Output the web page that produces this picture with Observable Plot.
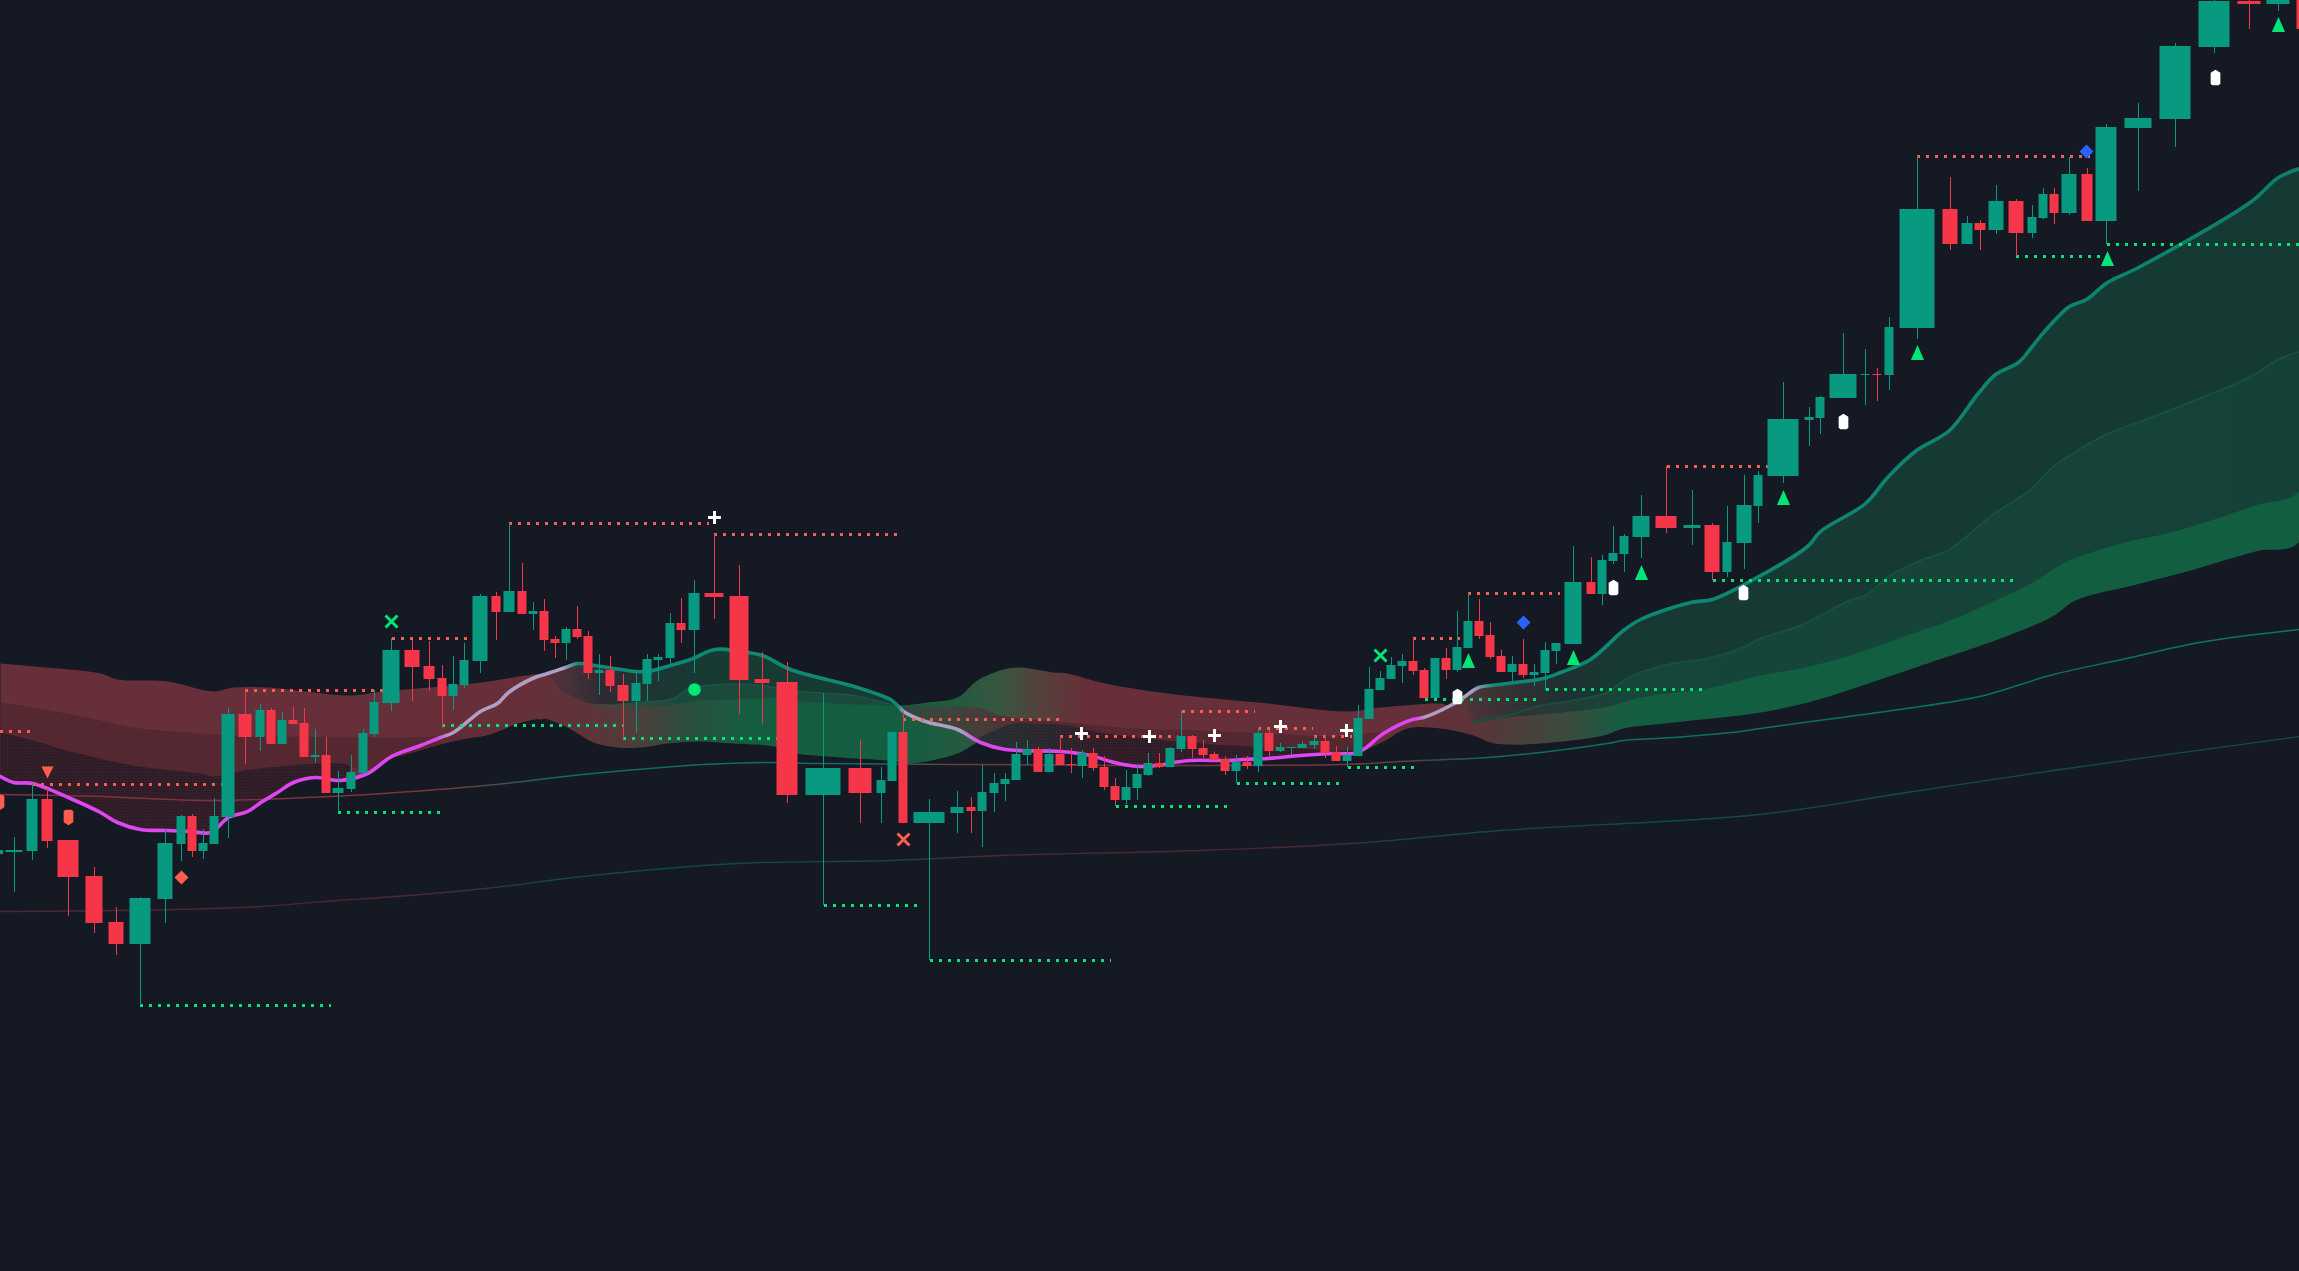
<!DOCTYPE html>
<html>
<head>
<meta charset="utf-8">
<style>
html,body{margin:0;padding:0;background:#141924;overflow:hidden;width:2299px;height:1271px}
</style>
<script src="https://cdn.jsdelivr.net/npm/d3@7"></script>
<script src="https://cdn.jsdelivr.net/npm/@observablehq/plot@0.6"></script>
</head>
<body>
<div id="chart"></div>
<script>
// ---------- candles ----------
const candleX=[0,14,32,47,68,94,116,140,165,181,192,203,214,228,245,260,271,282,293,304,315,326,338,351,363,374,391,412,429,442,453,464,480,496,509,522,533,544,555,566,577,588,599,610,623,636,647,658,670,681,694,714,739,762,787,823,860,881,892,903,929,957,971,982,994,1005,1016,1027,1038,1049,1060,1071,1082,1093,1104,1115,1126,1137,1148,1159,1170,1181,1192,1203,1214,1225,1236,1247,1258,1269,1280,1291,1302,1314,1325,1336,1347,1358,1369,1380,1391,1402,1413,1424,1435,1446,1457,1468,1479,1490,1501,1512,1523,1534,1545,1556,1573,1591,1602,1613,1624,1641,1666,1692,1712,1727,1744,1758,1783,1809,1820,1843,1865,1877,1889,1917,1950,1967,1980,1996,2016,2032,2043,2054,2069,2087,2106,2138,2175,2214,2249,2278,2302];
const candleW=[6,17,11,11,21,17,15,21,15,9,9,9,9,13,13,9,9,9,9,9,9,9,11,9,9,9,17,15,11,9,9,9,15,9,11,9,9,9,9,9,9,9,9,9,11,9,9,9,9,9,11,19,19,15,21,35,23,9,9,9,31,13,9,9,9,9,9,9,9,9,9,9,9,9,9,9,9,9,9,9,9,9,9,9,9,9,9,9,9,9,9,9,9,9,9,9,9,9,9,9,9,9,9,9,9,9,9,9,9,9,9,9,9,9,9,9,17,9,9,9,9,17,21,17,15,9,15,9,31,9,9,27,9,9,9,35,15,11,11,15,15,9,9,9,15,11,21,27,31,31,23,23,11];
const candleTop=[850,850,799,799,840,876,922,898,843,816,816,843,816,714,714,710,710,720,720,723,755,755,788,772,733,702,650,650,666,678,684,660,596,596,591,591,611,611,639,629,629,636,670,670,685,683,659,657,623,623,593,593,596,679,682,768,768,780,732,732,812,807,807,792,783,779,754,749,749,754,754,764,753,753,767,786,787,774,763,763,748,736,736,748,754,759,762,762,733,733,747,747,744,741,741,752,755,718,689,678,665,661,661,670,658,658,647,621,621,635,656,664,664,672,650,643,582,582,560,553,536,516,516,525,525,542,505,475,419,417,397,374,374,374,327,209,209,223,223,201,201,217,194,194,174,174,127,118,46,1,1,0,0];
const candleBottom=[854,852,851,841,877,923,944,944,899,844,851,851,844,817,737,737,744,744,724,757,757,793,793,789,773,734,703,667,679,696,696,685,661,612,612,614,614,640,643,643,637,673,673,686,701,701,684,660,658,630,630,597,680,683,795,795,793,793,781,823,823,813,811,811,793,784,780,755,772,772,765,765,766,768,787,800,800,788,775,767,767,749,749,755,760,771,771,766,766,751,751,748,748,745,753,761,761,756,719,690,679,666,671,698,698,670,670,648,636,657,672,672,675,675,673,651,644,594,594,561,554,537,528,528,572,572,543,506,476,420,418,398,375,375,375,328,244,244,230,230,233,233,218,213,213,221,221,128,119,47,4,4,29];
const candleHigh=[850,837,783,788,840,867,907,897,829,815,814,829,798,708,690,704,708,712,707,708,729,737,771,755,729,690,638,640,641,665,656,643,594,592,523,563,602,599,636,627,606,631,654,656,674,672,654,654,613,598,580,534,565,652,662,693,740,767,732,711,799,791,797,765,773,773,742,740,747,748,735,748,750,748,756,778,770,765,753,753,747,711,735,740,752,756,755,756,727,730,743,747,741,736,735,746,747,705,667,671,657,654,638,668,658,648,611,593,599,622,650,656,639,664,642,643,546,557,555,526,534,495,466,490,523,506,475,471,382,407,396,333,349,368,317,156,177,216,220,185,199,205,188,188,157,168,124,103,43,0,0,0,0];
const candleLow=[854,892,860,848,916,933,955,1005,923,861,857,859,844,838,764,751,744,744,724,757,763,793,812,792,773,737,711,701,691,726,710,688,673,640,612,614,630,651,658,660,639,679,695,692,739,733,701,681,664,643,673,619,714,724,803,905,823,823,781,823,960,833,833,847,812,801,780,765,772,772,765,773,778,771,790,806,804,800,776,768,767,752,758,758,760,775,783,769,772,756,752,755,748,749,758,761,767,756,719,690,679,683,675,698,698,679,672,648,639,659,672,681,678,686,690,664,644,594,605,564,572,558,533,545,580,577,569,523,483,446,434,398,405,401,390,339,250,244,250,234,256,238,219,224,215,221,244,191,147,53,29,11,29];
const candleUp=[1,1,1,0,0,0,0,1,1,1,0,1,1,1,0,1,0,1,0,0,1,0,1,1,1,1,1,0,0,0,1,1,1,0,1,0,1,0,0,1,0,0,1,0,0,1,1,1,1,0,1,0,0,0,0,1,0,1,1,0,1,1,0,1,1,1,1,1,0,1,0,0,1,0,0,0,1,1,1,0,1,1,0,0,0,0,1,0,1,0,1,1,1,1,0,0,1,1,1,1,1,1,0,0,1,0,1,1,0,0,0,1,0,1,1,1,1,0,1,1,1,1,0,1,0,1,1,1,1,1,1,1,1,0,1,1,0,1,0,1,0,1,1,0,1,0,1,1,1,1,0,1,0];

// ---------- level dots: [x1, x2, y] ----------
const levelsRed=[[0,31,731],[32,222,784],[245,383,690],[392,473,638],[509,709,523],[714,898,534],[903,1059,719],[1060,1178,736],[1182,1255,711],[1258,1313,728],[1314,1352,736],[1413,1460,638],[1468,1560,593],[1667,1768,466],[1917,2090,156]];
const levelsGreen=[[140,331,1005],[338,440,812],[442,623,725],[623,777,738],[824,923,905],[930,1111,960],[1116,1233,806],[1237,1345,783],[1348,1420,767],[1425,1542,699],[1546,1708,689],[1713,2013,580],[2016,2100,256],[2107,2299,244]];

// ---------- long moving averages ----------
const longLineA=[[0,794],[100,796],[210,800],[350,795],[368,794],[485,785],[582,774],[703,764],[760,762],[820,763],[960,764],[1120,765],[1340,764],[1400,761],[1500,756],[1607,743],[1623,740],[1673,737],[1740,731],[1760,728],[1833,718],[1906,708],[1979,696],[2053,674],[2126,658],[2199,642],[2299,629]];
const longLineB=[[0,911],[175,909],[260,906],[350,899],[368,898],[485,888],[582,876],[703,865],[760,862],[890,860],[1000,855],[1200,850],[1350,843],[1500,830],[1759,814],[1906,792],[2053,770],[2299,736]];

// ---------- ribbon lines ----------
const lineD=[[0,776],[13,782],[32,783],[70,798],[100,812],[117,822],[140,829],[167,830],[190,831],[210,832],[228,817],[247,811],[262,801],[277,792],[293,782],[315,777],[340,780],[367,773],[391,756],[420,745],[440,737],[453,732],[480,711],[497,703],[508,692],[532,678],[547,673],[565,667],[577,663],[594,665],[613,668],[635,671],[647,671],[670,665],[690,659],[714,649],[740,651],[762,655],[790,669],[857,687],[890,699],[897,705],[903,711],[925,721],[957,729],[980,742],[1005,749],[1060,751],[1090,755],[1110,761],[1123,764],[1140,766],[1157,765],[1173,762],[1190,760],[1227,760],[1243,759],[1267,758],[1300,755],[1333,753],[1353,753],[1363,749],[1383,733],[1412,719],[1423,717],[1450,705],[1463,697],[1478,687],[1490,685],[1523,681],[1543,678],[1560,672],[1590,659],[1623,630],[1640,619],[1690,602],[1712,599],[1742,585],[1807,546],[1820,531],[1865,503],[1888,476],[1916,450],[1949,430],[1977,394],[1995,374],[2018,362],[2031,347],[2044,331],[2069,306],[2086,299],[2107,282],[2138,267],[2251,201],[2278,177],[2300,168]];
const hullTopLeft=[[0,663],[33,666],[100,673],[117,679],[167,681],[213,691],[233,687],[267,687],[350,695],[383,691],[473,683],[533,674]];
const hullTopMid=[[903,705],[927,702],[957,697],[977,680],[1003,669],[1020,667],[1053,672],[1067,673],[1100,682],[1167,693],[1267,703],[1347,711],[1380,707],[1440,703]];
const hullBottomA=[[350,779],[367,775],[380,764],[391,758],[412,752],[436,745],[465,738],[485,735],[500,730],[517,723],[533,719],[543,718],[567,727],[593,742],[617,747],[640,747],[667,743],[700,741],[733,743],[767,745],[777,747],[790,752],[840,757],[887,760],[910,763],[957,753],[977,742]];
const hullBottomB=[[1383,741],[1407,728],[1440,728],[1473,735],[1490,742],[1507,744],[1540,743],[1603,735],[1623,728],[1673,722],[1760,712],[1818,699],[1906,670],[2008,635],[2052,616],[2075,600],[2136,584],[2190,570],[2255,551],[2300,540]];
const bandBLeft=[[0,702],[33,707],[100,720],[133,727],[200,733],[233,735],[350,737],[400,737],[440,735],[473,727],[507,717],[537,708],[600,706]];
const bandCLeft=[[0,732],[33,740],[67,750],[133,765],[200,773],[213,776],[233,772],[267,767],[350,766]];
const bandBGreen=[[600,706],[633,707],[667,705],[700,700],[733,699],[777,698],[800,701],[853,704],[887,705],[903,705]];
const bandMidGreen=[[533,674],[560,690],[590,703],[617,704],[650,701],[673,698],[690,687],[707,685],[720,684],[763,685],[787,690],[853,695],[887,703],[900,706]];
const bandBRed=[[903,705],[940,706],[980,708],[1000,715],[1067,722],[1133,728],[1200,730],[1267,733],[1333,736],[1383,733]];
const bandCRed=[[975,739],[1013,723],[1033,723],[1067,725],[1100,732],[1167,740],[1233,745],[1300,748],[1333,750],[1363,749]];
const bandBRight=[[1383,733],[1407,728],[1440,725],[1473,723],[1490,720],[1507,717],[1540,714],[1603,707],[1640,697],[1707,688],[1760,675],[1800,668],[1850,655],[1906,635],[1950,620],[1995,600],[2029,584],[2067,561],[2121,543],[2178,530],[2255,505],[2300,489]];
const bandMidRight=[[1473,722],[1490,718],[1507,715],[1540,705],[1573,700],[1607,692],[1623,680],[1640,672],[1673,663],[1707,658],[1740,648],[1760,638],[1800,625],[1849,600],[1865,595],[1888,576],[1918,561],[1949,549],[1991,515],[2029,490],[2052,467],[2069,455],[2106,434],[2151,417],[2209,394],[2249,377],[2278,359],[2300,351]];

// ---------- signal markers: [x, y] ----------
const plusMarks=[[714,517],[1081,733],[1149,736],[1214,735],[1280,726],[1346,730]];
const timesGreen=[[391,621],[1380,655]];
const timesOrange=[[903,839]];
const shieldsUp=[[1457,696],[1613,587],[1743,592],[1843,421],[2215,77]];
const shieldsDown=[[68,817],[-1,802]];
const trianglesUp=[[1468,660],[1573,657],[1641,572],[1783,497],[1917,352],[2107,258],[2278,24]];
const trianglesDown=[[47,772]];
const diamondsOrange=[[181,877]];
const diamondsBlue=[[1523,622],[2086,151]];
const circlesGreen=[[694,689]];

// ---------- colours ----------
const TEAL="#089a80",RED="#f43648",BG="#141924",DOT_RED="#ff5d4d",DOT_GREEN="#00e676",BLUE="#2962ff";
const brightStops=[[0,"#672f39"],[520,"#672f39"],[590,"#5e3439"],[640,"#4a3f3b"],[690,"#2a4f3f"],[740,"#175c41"],[900,"#135e41"],[960,"#245a40"],[1000,"#38563f"],[1040,"#55403c"],[1085,"#672f39"],[1400,"#672f39"],[1470,"#5d333a"],[1520,"#4a3f3b"],[1570,"#3a4c3e"],[1610,"#1c5a41"],[1650,"#115f40"],[2299,"#115f40"]];
const mediumStops=[[0,"#4a242d"],[420,"#4a242d"],[470,"#5a2b35"],[540,"#5c3038"],[617,"#3a4a3c"],[680,"#1a4a3c"],[900,"#1a4a3c"],[930,"#2a4a3c"],[985,"#3c3b38"],[1040,"#4a242d"],[1383,"#4a242d"],[1473,"#4a3a3c"],[1520,"#2f3334"],[1620,"#16453a"],[2299,"#144238"]];
const darkStops=[[0,"#2b1c27"],[350,"#2b1c27"],[540,"#5a3038"],[570,"#46303a"],[600,"#2f2b33"],[650,"#1d3533"],[700,"#173a33"],[900,"#173a33"],[975,"#1f3032"],[1040,"#26282e"],[1100,"#2b1c27"],[1363,"#2b1c27"],[1463,"#4f353a"],[1500,"#3a3235"],[1560,"#1f3032"],[1620,"#163a33"],[2299,"#153a33"]];
const lineDStops=[[0,"#de46f0"],[436,"#de46f0"],[448,"#b09ec4"],[562,"#b09ec4"],[578,"#0e8a74"],[897,"#0e8a74"],[904,"#b09ec4"],[960,"#b09ec4"],[980,"#de46f0"],[1415,"#de46f0"],[1426,"#b09ec4"],[1470,"#b09ec4"],[1495,"#0e8a74"],[2299,"#0d806c"]];
const longAStops=[[0,"#7d323c"],[440,"#7d323c"],[560,"#0c6e5c"],[860,"#0c6e5c"],[960,"#6a3a3e"],[1320,"#7d323c"],[1440,"#3a4a48"],[1500,"#0c6e5c"],[2299,"#0c7464"]];
const longBStops=[[0,"#4d2630"],[420,"#4d2630"],[560,"#124a40"],[900,"#124a40"],[980,"#4a2a30"],[1300,"#4d2630"],[1420,"#124a40"],[2299,"#0f4f45"]];

// ---------- helpers ----------
const X=d=>d[0],Y=d=>d[1];
const CURVE="catmull-rom";
const seg=(a,lo,hi)=>a.filter(d=>d[0]>=lo&&d[0]<=hi);
const ring=(top,bottom)=>[...top,...[...bottom].reverse()];
const poly=(pts,fill)=>Plot.line(pts,{x:X,y:Y,fill,stroke:"none",curve:CURVE});
const polyPat=(pts,fill,pat)=>[poly(pts,fill),poly(pts,pat)];

const sym=pts=>({draw(c,size){const r=Math.sqrt(size/Math.PI);pts.forEach((p,i)=>i?c.lineTo(p[0]*r,p[1]*r):c.moveTo(p[0]*r,p[1]*r));c.closePath();}});
const plusSym={draw(c,size){const r=Math.sqrt(size/Math.PI);c.moveTo(-r,0);c.lineTo(r,0);c.moveTo(0,-r);c.lineTo(0,r);}};
const timesSym={draw(c,size){const r=Math.sqrt(size/Math.PI);c.moveTo(-r,-r);c.lineTo(r,r);c.moveTo(r,-r);c.lineTo(-r,r);}};
const shieldUpSym=sym([[0,-1],[.62,-.6],[.62,.8],[.4,1],[-.4,1],[-.62,.8],[-.62,-.6]]);
const shieldDownSym=sym([[0,1],[.62,.6],[.62,-.8],[.4,-1],[-.4,-1],[-.62,-.8],[-.62,.6]]);
const triUpSym=sym([[0,-1],[.88,1],[-.88,1]]);
const triDownSym=sym([[0,1],[1,-1],[-1,-1]]);
const diamondSym=sym([[0,-1],[1,0],[0,1],[-1,0]]);

const defs=()=>{
  const d=d3.create("svg:defs");
  const grad=(id,stops)=>{
    const g=d.append("linearGradient").attr("id",id).attr("gradientUnits","userSpaceOnUse")
      .attr("x1",0).attr("x2",2299).attr("y1",0).attr("y2",0);
    stops.forEach(s=>g.append("stop").attr("offset",s[0]/2299).attr("stop-color",s[1]));
  };
  grad("gBright",brightStops);grad("gMedium",mediumStops);grad("gDark",darkStops);
  grad("gD",lineDStops);grad("gA",longAStops);grad("gB",longBStops);
  const pat=(id,size,color,op)=>{
    const p=d.append("pattern").attr("id",id).attr("patternUnits","userSpaceOnUse").attr("width",size).attr("height",size);
    p.append("rect").attr("width",1).attr("height",1).attr("fill",color).attr("fill-opacity",op);
  };
  pat("pMedium",2,"#a03c48",.5);pat("pDark",3,"#8a3642",.55);
  return d.node();
};

// ---------- polygons ----------
const hull=ring(
  [...hullTopLeft,...seg(lineD,547,897),...hullTopMid,...seg(lineD,1450,2300)],
  [...seg(lineD,0,340),...hullBottomA,...seg(lineD,980,1353),...hullBottomB]);
const medLeft=ring(bandBLeft.filter(d=>d[0]<=537),[...bandCLeft,...seg(hullBottomA,367,543)]);
const darkLeft=ring(bandCLeft,seg(lineD,0,340));
const darkGreen=ring(seg(lineD,547,897),bandMidGreen.filter(d=>d[0]>=560));
const medGreen=ring(bandMidGreen.filter(d=>d[0]>=590),[[590,704],...bandBGreen]);
const medRed=ring(bandBRed,[[903,711],[925,721],[957,729],...bandCRed]);
const darkRed=ring(bandCRed,seg(lineD,980,1353));
const medRight=ring(bandMidRight,bandBRight.filter(d=>d[0]>=1473));
const darkRight=ring(seg(lineD,1463,2300),bandMidRight);

const candles=candleX.map((x,i)=>({x,w:candleW[i],top:candleTop[i],bottom:candleBottom[i],high:candleHigh[i],low:candleLow[i],up:candleUp[i]===1}));
const up=candles.filter(d=>d.up),down=candles.filter(d=>!d.up);
const body=(data,fill)=>Plot.rect(data,{x1:d=>d.x-d.w/2,x2:d=>d.x+d.w/2,y1:"top",y2:"bottom",fill});
const wick=(data,stroke)=>Plot.ruleX(data,{x:"x",y1:"high",y2:"low",stroke,strokeWidth:1});
const level=(data,stroke)=>Plot.ruleY(data,{x1:d=>d[0],x2:d=>d[1],y:d=>d[2],stroke,strokeWidth:3,strokeDasharray:"3 6"});
const mark=(data,symbol,r,opts)=>Plot.dot(data,{x:X,y:Y,symbol,r,stroke:"none",...opts});

const chart=Plot.plot({
  width:2299,height:1271,
  marginTop:0,marginRight:0,marginBottom:0,marginLeft:0,
  style:{background:BG,overflow:"hidden"},
  x:{type:"linear",domain:[0,2299],range:[0,2299],axis:null},
  y:{type:"linear",domain:[0,1271],range:[0,1271],axis:null},
  marks:[
    defs,
    poly(hull,"url(#gBright)"),
    polyPat(medLeft,"url(#gMedium)","url(#pMedium)"),
    polyPat(darkLeft,"url(#gDark)","url(#pDark)"),
    poly(darkGreen,"url(#gDark)"),
    poly(medGreen,"url(#gMedium)"),
    polyPat(medRed,"url(#gMedium)","url(#pMedium)"),
    polyPat(darkRed,"url(#gDark)","url(#pDark)"),
    poly(medRight,"url(#gMedium)"),
    poly(darkRight,"url(#gDark)"),
    Plot.line(bandMidRight,{x:X,y:Y,stroke:"#17503f",strokeWidth:2,curve:CURVE}),
    Plot.line(seg(bandMidGreen,617,900),{x:X,y:Y,stroke:"#1a5644",strokeWidth:1.5,curve:CURVE}),
    Plot.line(longLineA,{x:X,y:Y,stroke:"url(#gA)",strokeWidth:1.5,curve:CURVE}),
    Plot.line(longLineB,{x:X,y:Y,stroke:"url(#gB)",strokeWidth:1.3,curve:CURVE}),
    Plot.line(lineD,{x:X,y:Y,stroke:"url(#gD)",strokeWidth:3.6,curve:CURVE}),
    level(levelsRed,DOT_RED),
    level(levelsGreen,DOT_GREEN),
    wick(up,TEAL),wick(down,RED),
    body(up,TEAL),body(down,RED),
    mark(plusMarks,plusSym,6.5,{stroke:"#fff",strokeWidth:3}),
    mark(timesGreen,timesSym,6,{stroke:DOT_GREEN,strokeWidth:3}),
    mark(timesOrange,timesSym,6,{stroke:DOT_RED,strokeWidth:3}),
    mark(shieldsUp,shieldUpSym,7.8,{fill:"#fff"}),
    mark(shieldsDown,shieldDownSym,7.8,{fill:DOT_RED}),
    mark(trianglesUp,triUpSym,7.5,{fill:DOT_GREEN}),
    mark(trianglesDown,triDownSym,6,{fill:DOT_RED}),
    mark(diamondsOrange,diamondSym,7,{fill:DOT_RED}),
    mark(diamondsBlue,diamondSym,7,{fill:BLUE}),
    Plot.dot(circlesGreen,{x:X,y:Y,r:6.3,fill:DOT_GREEN})
  ]
});
document.getElementById("chart").appendChild(chart);
</script>
</body>
</html>
